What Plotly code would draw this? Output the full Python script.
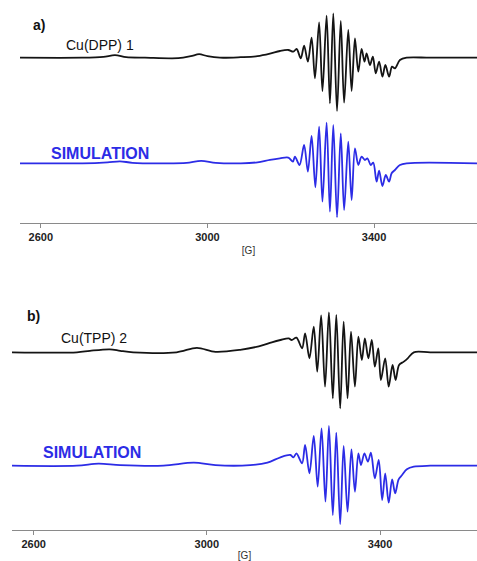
import plotly.graph_objects as go

# ---------------- data (field in G, signal in arbitrary units) ----------------
a_exp_x = [2550, 2700, 2750, 2778, 2805, 2850, 2930, 2960, 2980, 3000, 3030, 3080, 3120, 3150,
           3174, 3194, 3206, 3214, 3224, 3232, 3241, 3250, 3258, 3268, 3276, 3286, 3294, 3302,
           3311, 3320, 3328, 3338, 3346, 3354, 3362, 3370, 3377, 3382, 3390, 3397, 3404, 3412,
           3420, 3427, 3436, 3443, 3450, 3462, 3478, 3534, 3647]
a_exp_y = [0, 0, 0.8, 2.5, 0.5, 0, -0.5, 1.5, 3.5, 1.5, 0, 0.5, 1.5, 4,
           6.7, 7.7, 6, 8.7, -0.6, 12, -4, 20, -20.6, 35.4, -33.3, 42, -45.6, 44.4,
           -53.3, 36.7, -45, 27.7, -33.3, 19.4, -14, 8.7, -4, 4.4, -7.3, 1, -15.6, -4,
           -19, -7.3, -19, -9, -10.6, -2.3, 0, 0, 0]

a_sim_x = [2550, 2700, 2760, 2790, 2820, 2900, 2950, 2985, 3020, 3080, 3120, 3150,
           3174, 3194, 3205, 3210, 3221, 3232, 3241, 3250, 3259, 3268, 3276, 3286, 3294, 3302,
           3311, 3320, 3328, 3338, 3346, 3354, 3362, 3370, 3378, 3384, 3392, 3398, 3406, 3412,
           3420, 3428, 3436, 3442, 3450, 3462, 3478, 3647]
a_sim_y = [0, 0, 1, 2, 0.5, 0, 0.5, 2.5, 0.5, 0, 1, 3.5,
           5, 5.7, 1.7, 6.7, -1.7, 18.3, -8.3, 27.3, -24, 36.6, -38.4, 40.6, -48.4, 38.3,
           -54, 30, -46.7, 21.6, -36.7, 15, -1.7, 6.6, 3.3, 5, -1.7, 0.6, -18.4, -7.3,
           -22.7, -11.7, -18.4, -10, -6.7, -1.7, 0, 0]

b_exp_x = [2550, 2700, 2730, 2776, 2800, 2830, 2930, 2977, 3020, 3077, 3120, 3150,
           3170, 3189, 3196, 3207, 3220, 3227, 3237, 3247, 3255, 3264, 3273, 3282, 3291, 3299,
           3308, 3316, 3325, 3333, 3342, 3350, 3358, 3365, 3373, 3381, 3388, 3396, 3402, 3412,
           3420, 3429, 3436, 3444, 3455, 3464, 3478, 3516, 3624]
b_exp_y = [0, 0, 1.5, 3, 1.5, 0, 0, 4.5, 0.5, 2.5, 6, 10,
           12.3, 14, 12.3, 14.6, 4, 19, -6, 25.6, -19.4, 37, -34.4, 40, -46, 37.5,
           -56, 30.6, -46, 20.6, -34.4, 15.6, -7.7, 14, -6, 12.3, -14.4, 4, -27.7, -6,
           -34.4, -12.7, -27.7, -12.7, -9.3, -6, 0, 0, 0]

b_sim_x = [2550, 2700, 2750, 2800, 2900, 2970, 3020, 3100, 3140,
           3170, 3193, 3200, 3207, 3220, 3227, 3237, 3247, 3256, 3265, 3274, 3282, 3291, 3299,
           3308, 3316, 3325, 3334, 3342, 3350, 3356, 3364, 3372, 3379, 3388, 3397, 3405, 3412,
           3420, 3428, 3435, 3443, 3451, 3462, 3478, 3516, 3624]
b_sim_y = [0, 0, 2, 0.5, 0, 3, 0.5, 0.5, 3,
           8.4, 10.7, 8.4, 12.4, 2.4, 20.7, -7.6, 29.7, -21, 37.4, -36, 39.7, -49.3, 33,
           -58.3, 19.7, -46, 16.4, -26, 12.4, 0.7, 12.4, 4, 13, -12.6, 5.7, -34.3, -7.6,
           -37, -13.7, -27.6, -13.7, -9.3, -3.6, -1, 0, 0]

tick_vals = [2600, 3000, 3400]
tick_text = ["2600", "3000", "3400"]

# ---------------- figure ----------------
W, H = 477, 561
BLACK = "#141414"
BLUE = "#2c2ce6"


def fy(py):
    return 1 - py / H


fig = go.Figure()
line_common = dict(shape="spline", smoothing=0.9)
fig.add_trace(go.Scatter(x=a_exp_x, y=a_exp_y, mode="lines", xaxis="x", yaxis="y",
                         line=dict(color=BLACK, width=1.8, **line_common), hoverinfo="skip"))
fig.add_trace(go.Scatter(x=a_sim_x, y=a_sim_y, mode="lines", xaxis="x", yaxis="y2",
                         line=dict(color=BLUE, width=1.8, **line_common), hoverinfo="skip"))
fig.add_trace(go.Scatter(x=b_exp_x, y=b_exp_y, mode="lines", xaxis="x2", yaxis="y3",
                         line=dict(color=BLACK, width=1.8, **line_common), hoverinfo="skip"))
fig.add_trace(go.Scatter(x=b_sim_x, y=b_sim_y, mode="lines", xaxis="x2", yaxis="y4",
                         line=dict(color=BLUE, width=1.8, **line_common), hoverinfo="skip"))

xcommon = dict(tickmode="array", tickvals=tick_vals, ticktext=tick_text,
               showgrid=False, zeroline=False, showline=True, linecolor="#8a8a8a",
               linewidth=1, ticks="outside", ticklen=4, tickcolor="#8a8a8a",
               tickfont=dict(family="Liberation Sans, Arial, sans-serif", size=11,
                             color="#222", weight="bold"),
               title=dict(text="[G]", font=dict(family="Liberation Sans, Arial, sans-serif",
                                                 size=10, color="#333"), standoff=4))
ycommon = dict(visible=False, showgrid=False, zeroline=False)

fig.update_layout(
    width=W, height=H, margin=dict(l=0, r=0, t=0, b=0),
    paper_bgcolor="white", plot_bgcolor="white", showlegend=False,
    xaxis=dict(domain=[20 / W, 1], range=[2550, 3647], anchor="y2", **xcommon),
    xaxis2=dict(domain=[12 / W, 1], range=[2550, 3624], anchor="y4", **xcommon),
    yaxis=dict(domain=[fy(115), fy(0)], range=[-57.3, 57.7], anchor="x", **ycommon),
    yaxis2=dict(domain=[fy(223), fy(115)], range=[-59.7, 48.3], anchor="x", **ycommon),
    yaxis3=dict(domain=[fy(415), fy(300)], range=[-62.7, 52.3], anchor="x2", **ycommon),
    yaxis4=dict(domain=[fy(530), fy(415)], range=[-64.3, 50.7], anchor="x2", **ycommon),
)

font_txt = "Liberation Sans, Arial, sans-serif"
annos = [
    (31, 25, "a)", 14, "#111", "bold"),
    (64, 45, "Cu(DPP) 1", 14, "#111", "normal"),
    (49, 153, "SIMULATION", 16, BLUE, "bold"),
    (25, 316, "b)", 14, "#111", "bold"),
    (59, 338, "Cu(TPP) 2", 14, "#111", "normal"),
    (41, 452, "SIMULATION", 16, BLUE, "bold"),
]
for x, y, t, s, c, w in annos:
    fig.add_annotation(x=x / W, y=fy(y), xref="paper", yref="paper", text=t,
                       showarrow=False, xanchor="left", yanchor="middle",
                       font=dict(family=font_txt, size=s, color=c, weight=w))

fig.write_html("out.html", config={"displayModeBar": False},
               post_script="document.body.style.margin='0';document.body.style.overflow='hidden';")
